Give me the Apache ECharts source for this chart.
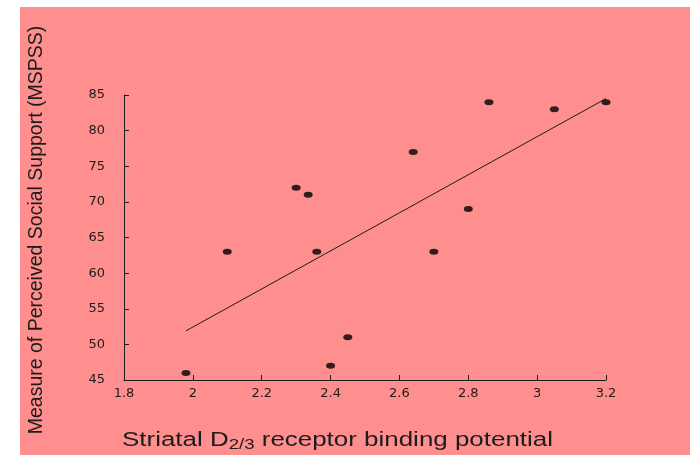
<!DOCTYPE html>
<html>
<head>
<meta charset="utf-8">
<script src="https://cdn.jsdelivr.net/npm/echarts@6/dist/echarts.min.js"></script>
<style>
html,body{margin:0;padding:0;background:#fff;}
#chart{width:690px;height:455px;}
</style>
</head>
<body>
<div id="chart"></div>
<script>
// Data
var bindingPotential = [1.98, 2.10, 2.30, 2.335, 2.36, 2.40, 2.45, 2.64, 2.70, 2.80, 2.86, 3.05, 3.20];
var mspss            = [46,   63,   72,   71,    63,   47,   51,   77,   63,   69,   84,   83,   84];
var fitX = [1.98, 3.20];
var fitY = [51.9, 84.5];
var xTicks = [1.8, 2, 2.2, 2.4, 2.6, 2.8, 3, 3.2];
var yTicks = [45, 50, 55, 60, 65, 70, 75, 80, 85];
var xTitle = ['Striatal D', '2/3', ' receptor binding potential'];
var yTitle = 'Measure of Perceived Social Support (MSPSS)';

var points = bindingPotential.map(function (x, i) { return [x, mspss[i]]; });
var fitLine = fitX.map(function (x, i) { return [x, fitY[i]]; });

var font = '"Liberation Sans", Arial, Helvetica, sans-serif';
var tickFont = '"DejaVu Sans", "Liberation Sans", sans-serif';
var ink = '#1c1c1c';

var chart = echarts.init(document.getElementById('chart'), null, {renderer: 'canvas'});
chart.setOption({
  animation: false,
  backgroundColor: '#ffffff',
  graphic: [
    {
      type: 'rect', z: -10, silent: true,
      shape: {x: 20, y: 7, width: 670, height: 448},
      style: {fill: '#ff8e8e'}
    },
    {
      type: 'text', silent: true, x: 122, y: 441, scaleX: 1.33,
      style: {
        text: '{a|' + xTitle[0] + '}{b|' + xTitle[1] + '}{a|' + xTitle[2] + '}',
        x: 0, y: 0, align: 'left', verticalAlign: 'middle',
        rich: {
          a: {fontSize: 19.5, fontFamily: font, fill: ink, color: ink},
          b: {fontSize: 14, fontFamily: font, fill: ink, color: ink, padding: [8, 0, 0, 0]}
        }
      }
    }
  ],
  grid: {left: 124, top: 95, width: 482, height: 285, containLabel: false},
  xAxis: {
    type: 'value',
    min: xTicks[0], max: xTicks[xTicks.length - 1], interval: 0.2,
    axisLine: {onZero: false, lineStyle: {color: ink, width: 1}},
    axisTick: {inside: true, length: 5, lineStyle: {color: ink}},
    axisLabel: {color: ink, fontSize: 13, fontFamily: tickFont, margin: 7,
      formatter: function (v) { return String(+v.toFixed(1)); }},
    splitLine: {show: false}
  },
  yAxis: {
    type: 'value',
    min: yTicks[0], max: yTicks[yTicks.length - 1], interval: 5,
    name: yTitle,
    nameLocation: 'middle', nameGap: 77, nameRotate: 90,
    nameTextStyle: {fontSize: 19.5, fontFamily: font, color: ink, padding: [0, 0, 0, 15]},
    axisLine: {onZero: false, lineStyle: {color: ink, width: 1}},
    axisTick: {inside: true, length: 5, lineStyle: {color: ink}},
    axisLabel: {color: ink, fontSize: 13, fontFamily: tickFont, margin: 19,
      padding: [0, 0, 3, 0]},
    splitLine: {show: false}
  },
  series: [
    {
      type: 'line', data: fitLine, showSymbol: false, symbol: 'none',
      lineStyle: {color: ink, width: 1}, z: 2
    },
    {
      type: 'scatter', data: points, symbol: 'circle', symbolSize: [9, 6],
      itemStyle: {color: '#000'}, z: 3
    }
  ]
});
</script>
</body>
</html>
